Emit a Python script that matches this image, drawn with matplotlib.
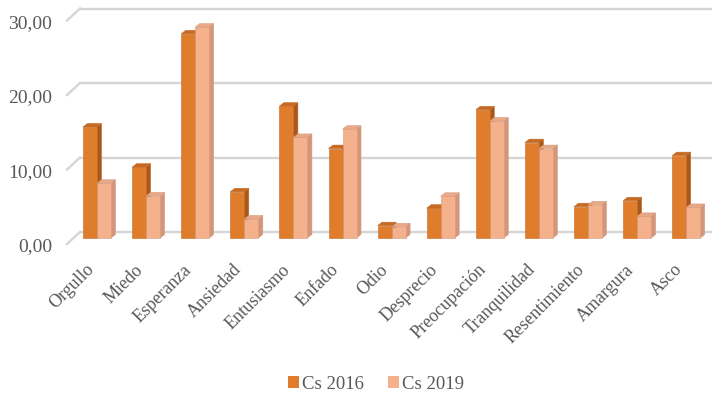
'''
Emotion shares for Cs, 2016 vs 2019, drawn as pseudo-3D column pairs
'''
import matplotlib
matplotlib.use('Agg')
import matplotlib.pyplot as plt
import matplotlib.transforms as mtransforms
from matplotlib.patches import Polygon, Patch
import numpy as np

plt.rcParams['font.family'] = ['Liberation Serif', 'DejaVu Serif']

categories = ['Orgullo', 'Miedo', 'Esperanza', 'Ansiedad', 'Entusiasmo', 'Enfado', 'Odio',
              'Desprecio', 'Preocupación', 'Tranquilidad', 'Resentimiento', 'Amargura', 'Asco']
cs2016 = [14.9, 9.5, 27.4, 6.2, 17.7, 12.0, 1.65, 4.0, 17.2, 12.8, 4.2, 5.0, 11.05]
cs2019 = [7.35, 5.65, 28.3, 2.55, 13.5, 14.6, 1.5, 5.6, 15.7, 12.0, 4.45, 2.9, 4.1]
series_names = ['Cs 2016', 'Cs 2019']
yticks = [0, 10, 20, 30]
ytick_labels = ['0,00', '10,00', '20,00', '30,00']

# face / side / top colours for each series
styles = [
    dict(front='#E07D2D', side='#A9581B', top='#C76B23', edge='#C46A25'),
    dict(front='#F4B18C', side='#D4957A', top='#E9A886', edge='#D49C80'),
]

W, H, DPI = 712, 402, 100
fig = plt.figure(figsize=(W / DPI, H / DPI), dpi=DPI)
fig.patch.set_facecolor('white')

# axes spans the plane the columns stand in (pixels)
left_px, base_px, top_px = 73.5, 239.0, 15.5
ax = fig.add_axes([left_px / W, 1 - base_px / H, 1 - left_px / W, (base_px - top_px) / H])
slot = 49.1
x0 = 97.0
ax.set_xlim((left_px - x0) / slot, (W - x0) / slot)
ax.set_ylim(0, 30)
for s in ax.spines.values():
    s.set_visible(False)
ax.patch.set_alpha(0)

px_per_unit = (base_px - top_px) / 30.0


def shift(dx, dy):
    # offset in pixels on top of data coords
    return ax.transData + mtransforms.ScaledTranslation(dx / DPI, dy / DPI, fig.dpi_scale_trans)


# back wall gridlines with the short floor diagonal on the left
xl, xr = ax.get_xlim()
for v in yticks:
    ax.plot([xl, xr + 1], [v, v], color='#d5d5d5', lw=1.7, transform=shift(6.5, 6), zorder=1,
            solid_capstyle='butt', clip_on=False)
    ax.plot([xl, xl + 13 / slot], [v, v + 12 / px_per_unit], color='#d5d5d5', lw=1.7,
            transform=shift(-6.5, -6), zorder=1, clip_on=False)

bw = 14.0 / slot
ddx = 4.5 / slot
ddy = 3.5 / px_per_unit
x = np.arange(len(categories))
for k, (vals, st) in enumerate(zip([cs2016, cs2019], styles)):
    xs = x + (k - 0.5) * bw
    bars = ax.bar(xs, vals, width=bw, color=st['front'], edgecolor=st['edge'], linewidth=0.4,
                  zorder=3 + k * 3, clip_on=False)
    for b, v in zip(bars, vals):
        l, r = b.get_x(), b.get_x() + b.get_width()
        side = Polygon([(r, 0), (r + ddx, ddy), (r + ddx, v + ddy), (r, v)], closed=True,
                       facecolor=st['side'], edgecolor=st['edge'], lw=0.4, zorder=2 + k * 3,
                       clip_on=False)
        top = Polygon([(l, v), (l + ddx, v + ddy), (r + ddx, v + ddy), (r, v)], closed=True,
                      facecolor=st['top'], edgecolor=st['edge'], lw=0.4, zorder=4 + k * 3,
                      clip_on=False)
        ax.add_patch(side)
        ax.add_patch(top)

# y labels sit on the front edge of the floor
ax.set_yticks(yticks)
ax.set_yticklabels(ytick_labels, fontsize=14, color='#595959')
ax.tick_params(axis='y', length=0, pad=15.5)
for lab in ax.get_yticklabels():
    lab.set_transform(lab.get_transform() + mtransforms.ScaledTranslation(0, -6 / DPI, fig.dpi_scale_trans))

ax.set_xticks(x)
ax.set_xticklabels(categories, fontsize=13, color='#595959', rotation=45, ha='right',
                   va='top', rotation_mode='anchor')
ax.tick_params(axis='x', length=0, pad=16)
for lab in ax.get_xticklabels():
    lab.set_transform(lab.get_transform() + mtransforms.ScaledTranslation(-12 / DPI, 0, fig.dpi_scale_trans))

handles = [Patch(facecolor=s['front'], edgecolor='none') for s in styles]
fig.legend(handles, series_names, loc='center', bbox_to_anchor=(376 / W, 1 - 385 / H), ncol=2,
           frameon=False, fontsize=13.5, labelcolor='#595959', handlelength=0.6,
           handleheight=0.6, handletextpad=0.15, columnspacing=1.3)

fig.savefig('out.png', dpi=DPI)
